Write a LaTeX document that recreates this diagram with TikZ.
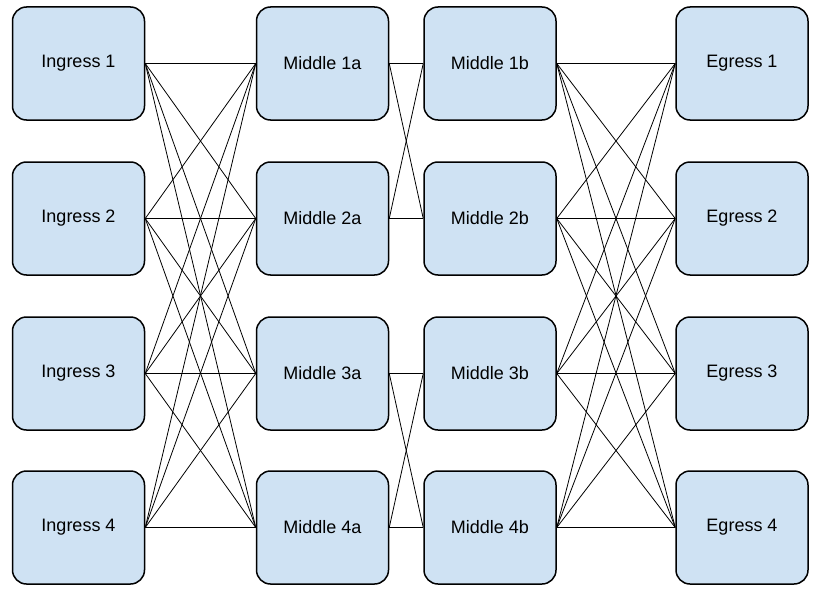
\documentclass[tikz,border=0pt]{standalone}
\usepackage{fontspec}
\setmainfont{Liberation Sans}
\begin{document}
\begin{tikzpicture}[x=1pt,y=-1pt,
  box/.style={draw=black,line width=1.5pt,fill={rgb,255:red,207;green,226;blue,243},rounded corners=14pt,minimum width=132pt,minimum height=113pt,font=\fontsize{18}{20}\selectfont,inner sep=0pt},
  link/.style={draw=black,line width=0.8pt}]
\useasboundingbox (0,0) rectangle (819,594);
\foreach \i/\y in {1/63.5,2/218.5,3/373.5,4/527.5}{
  \node[box] (in\i) at (78.5,\y) {Ingress \i};
  \node[box] (ma\i) at (322.5,\y) {Middle \i a};
  \node[box] (mb\i) at (490,\y) {Middle \i b};
  \node[box] (eg\i) at (742,\y) {Egress \i};
}
\foreach \i in {1,...,4}{\foreach \j in {1,...,4}{
  \draw[link] (in\i.east) -- (ma\j.west);
  \draw[link] (mb\i.east) -- (eg\j.west);
}}
\foreach \i/\j in {1/1,1/2,2/1,2/2,3/3,3/4,4/3,4/4}{
  \draw[link] (ma\i.east) -- (mb\j.west);
}
\end{tikzpicture}
\end{document}
